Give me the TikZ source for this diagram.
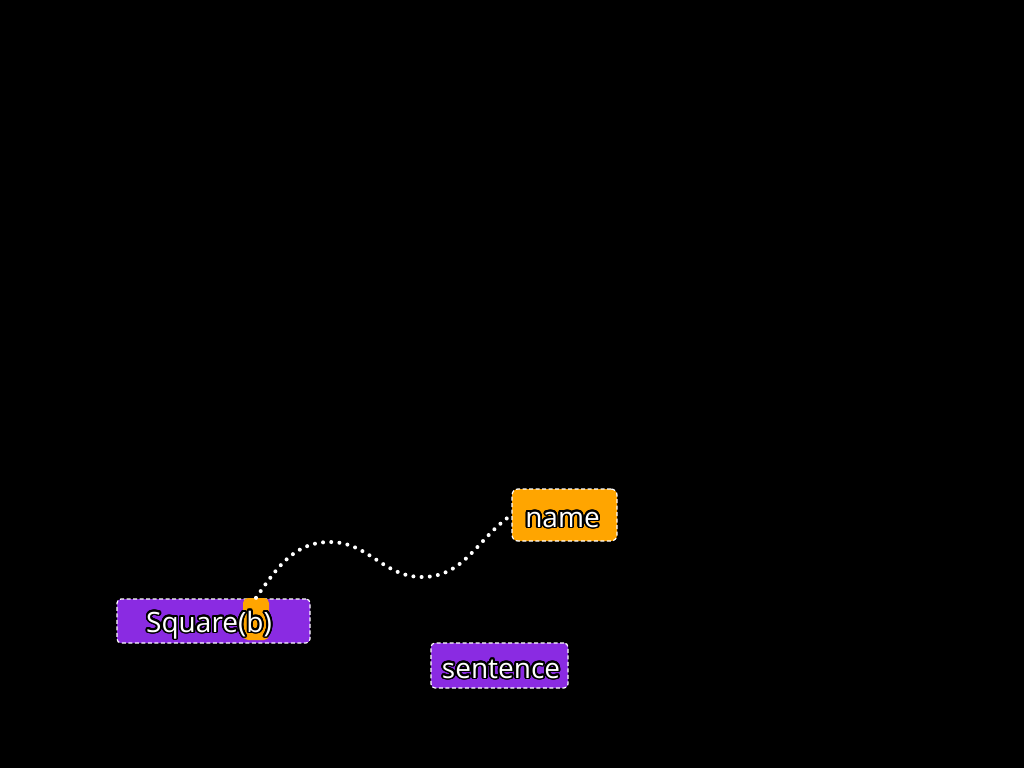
\documentclass[tikz,border=0pt]{standalone}
\usepackage{fontspec}
\setmainfont{Open Sans}
\usepackage{contour}
\contourlength{1.8pt}
\contournumber{24}
\definecolor{boxpurple}{HTML}{8A2BE2}
\definecolor{boxorange}{HTML}{FFA500}
\tikzset{
  box/.style={draw=white, dashed, line width=1.2pt, dash pattern=on 4pt off 2.5pt, rounded corners=4pt, inner sep=0pt},
  lbl/.style={text=white, font=\fontsize{28}{32}\selectfont, inner sep=0pt, anchor=base},
  dots/.style={draw=white, line width=4pt, line cap=round, dash pattern=on 0pt off 8.2pt}
}
\newcommand{\glow}[1]{\contour{black}{#1}}
\begin{document}
\begin{tikzpicture}[x=1pt,y=-1pt]
\fill[black] (0,0) rectangle (1024,768);
\useasboundingbox (0,0) rectangle (1024,768);
% Square(b) box
\node[box, fill=boxpurple, minimum width=193pt, minimum height=44pt] (sq) at (213.5,621) {};
\node[fill=boxorange, rounded corners=5pt, minimum width=26pt, minimum height=42pt, inner sep=0pt] (hl) at (256,619) {};
\node[lbl] (sqt) at (209,632) {\glow{Square(b)}};
% name box
\node[box, fill=boxorange, rounded corners=6pt, minimum width=105pt, minimum height=52pt] (name) at (564.5,515) {};
\node[lbl] (namet) at (562.5,527) {\glow{name}};
% sentence box
\node[box, fill=boxpurple, minimum width=137pt, minimum height=45pt] (sent) at (499.5,665.5) {};
\node[lbl] (sentt) at (501,678) {\glow{sentence}};
% dotted connector
\coordinate (peak) at (330,542);
\coordinate (trough) at (422,577);
\draw[dots] (hl.north) to[out=55,in=180] (peak) to[out=0,in=180] (trough) to[out=0,in=215] (name.west);
\end{tikzpicture}
\end{document}
